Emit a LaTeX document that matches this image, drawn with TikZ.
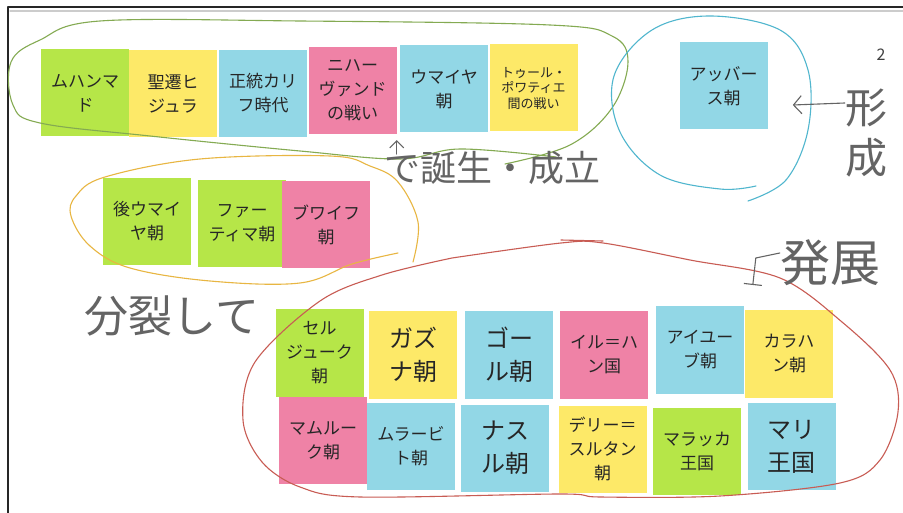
\documentclass[tikz,border=0pt]{standalone}
\usepackage{fontspec}
\newfontfamily\jpfont{Noto Sans CJK JP}
\usetikzlibrary{arrows.meta}

\definecolor{notegreen}{RGB}{182,230,72}
\definecolor{noteyellow}{RGB}{253,233,104}
\definecolor{noteblue}{RGB}{146,215,230}
\definecolor{notepink}{RGB}{239,130,166}
\definecolor{handgray}{RGB}{100,100,100}
\definecolor{loopgreen}{RGB}{132,170,82}
\definecolor{loopgold}{RGB}{232,182,66}
\definecolor{loopcyan}{RGB}{80,182,206}
\definecolor{loopred}{RGB}{200,92,84}

\begin{document}
\begin{tikzpicture}[x=1pt, y=-1pt, line join=round, line cap=round,
    note/.style={minimum width=88pt, minimum height=87pt, inner sep=0pt, align=center,
      text=black!85, font=\jpfont\fontsize{17}{24}\selectfont},
    bignote/.style={note, font=\jpfont\fontsize{24}{33}\selectfont},
    smallnote/.style={note, font=\jpfont\fontsize{13}{15.5}\selectfont},
    hand/.style={draw=handgray, line width=1.1pt},
    handtext/.style args={#1/#2}{text=handgray, inner sep=0pt, align=center,
      font=\jpfont\fontsize{#1}{#2}\selectfont},
    loopline/.style={line width=1.1pt}]

    \useasboundingbox (0,0) rectangle (903,513);
    \fill[white] (0,0) rectangle (903,513);

    % cadre de la page
    \draw[black!20, line width=1.5pt] (10,11) -- (903,11);
    \draw[black!85, line width=2pt] (8,513) -- (8,7) -- (903,7);
    \node[text=black!75, font=\jpfont\fontsize{16}{16}\selectfont] (page) at (881,55) {2};

    % premiere rangee
    \node[note, fill=notegreen]    (muhammad) at (85,93)    {ムハンマ\\ド};
    \node[note, fill=noteyellow]   (hijra)    at (173,93.5) {聖遷ヒ\\ジュラ};
    \node[note, fill=noteblue]     (rashidun) at (263,93.5) {正統カリ\\フ時代};
    \node[note, fill=notepink]     (nahavand) at (352.5,90.5) {ニハー\\ヴァンド\\の戦い};
    \node[note, fill=noteblue]     (umayya)   at (444,89)   {ウマイヤ\\朝};
    \node[smallnote, fill=noteyellow] (tours) at (533.5,88) {トゥール・\\ポワティエ\\間の戦い};
    \node[note, fill=noteblue]     (abbas)    at (723.5,86) {アッバー\\ス朝};

    % deuxieme rangee
    \node[note, fill=notegreen]    (goumayya) at (147,221.5) {後ウマイ\\ヤ朝};
    \node[note, fill=notegreen]    (fatima)   at (242,223.5) {ファー\\ティマ朝};
    \node[note, fill=notepink]     (buwayh)   at (326,225)   {ブワイフ\\朝};

    % groupe du bas
    \node[note, fill=notegreen]    (seljuk)   at (319.5,353) {セル\\ジューク\\朝};
    \node[bignote, fill=noteyellow] (ghazna)  at (413,355)   {ガズ\\ナ朝};
    \node[bignote, fill=noteblue]  (ghor)     at (509,355)   {ゴー\\ル朝};
    \node[note, fill=notepink]     (ilkhan)   at (604,355)   {イル＝ハ\\ン国};
    \node[note, fill=noteblue]     (ayyub)    at (700,350)   {アイユー\\ブ朝};
    \node[note, fill=noteyellow]   (karakhan) at (789,354)   {カラハ\\ン朝};
    \node[note, fill=notepink]     (mamluk)   at (323,440.5) {マムルー\\ク朝};
    \node[note, fill=noteblue]     (murabit)  at (411,446.5) {ムラービ\\ト朝};
    \node[bignote, fill=noteblue]  (nasr)     at (505,448)   {ナス\\ル朝};
    \node[note, fill=noteyellow]   (delhi)    at (602.5,449) {デリー＝\\スルタン\\朝};
    \node[note, fill=notegreen]    (malacca)  at (697,451)   {マラッカ\\王国};
    \node[bignote, fill=noteblue]  (mali)     at (791.5,446.5) {マリ\\王国};

    % les boucles tracees a la main
    \draw[loopline, loopgreen] plot[smooth, tension=0.6] coordinates {
      (556,157) (460,149) (400,159) (300,151) (150,136) (40,123) (13,105)
      (11,62) (40,40) (100,21) (300,21) (550,25) (612,36) (628,62)
      (612,108) (570,145) (505,164)};
    \draw[loopline, loopgold] plot[smooth, tension=0.6] coordinates {
      (413,262) (418,222) (398,182) (370,166) (330,156) (200,159) (105,177)
      (76,196) (71,216) (90,246) (130,268) (210,281) (300,283) (352,264) (398,253)};
    \draw[loopline, loopcyan] plot[smooth, tension=0.6] coordinates {
      (748,201) (786,180) (808,130) (808,70) (780,30) (710,16) (652,30)
      (614,76) (620,132) (660,175) (720,189) (756,186)};
    \draw[loopline, loopred] plot[smooth, tension=0.55] coordinates {
      (452,258) (561,243) (603,243) (690,260) (780,278) (842,322) (890,370)
      (898,412) (880,460) (840,483) (720,496) (600,497) (560,494) (360,497)
      (300,487) (262,462) (243,420) (255,362) (320,301) (382,275) (452,258)};
    \draw[loopline, loopred] (561,240) -- (603,241);

    % les notes manuscrites
    \node[handtext=36/40] (tanjo) at (492,168) {で誕生・成立};
    \draw[hand, -{Straight Barb[length=7pt, width=14pt]}] ([xshift=13pt, yshift=-3pt]tanjo.north west) -- ++(0,-14);

    \node[handtext=42/50] (keisei) at (866,133) {形\\成};
    \draw[hand, {Straight Barb[length=8pt, width=18pt]}-] ([xshift=-52pt, yshift=28pt]keisei.west) -- ([yshift=30pt]keisei.west);

    \node[handtext=50/55] (hatten) at (830,263) {発展};
    \draw[hand, -{Bar[width=18pt]}] ([yshift=10pt]hatten.west) -- ++(-24,5) -- ++(-3,27);

    \node[handtext=44/48] (bunretsu) at (172,316) {分裂して};

\end{tikzpicture}
\end{document}
